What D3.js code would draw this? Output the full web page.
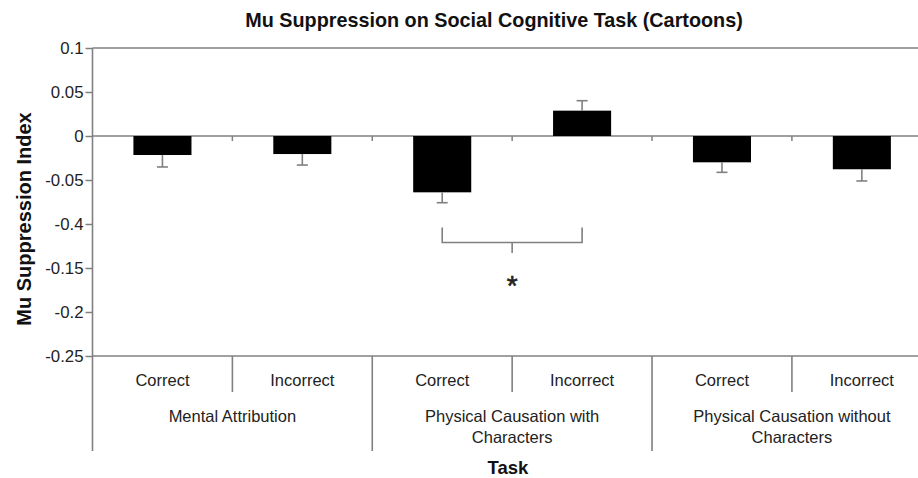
<!DOCTYPE html>
<html>
<head>
<meta charset="utf-8">
<script src="https://cdn.jsdelivr.net/npm/d3@7"></script>
<style>
  html, body { margin: 0; padding: 0; background: #fff; }
  svg { display: block; font-family: "Liberation Sans", Arial, sans-serif; }
</style>
</head>
<body>
<svg id="chart" width="918" height="478"></svg>
<script>
// Conditions (task x response) in drawing order
const conditions = ["MA-C", "MA-I", "PCW-C", "PCW-I", "PCWO-C", "PCWO-I"];
const responseLabels = ["Correct", "Incorrect", "Correct", "Incorrect", "Correct", "Incorrect"];
const taskGroups = [
  ["Mental Attribution"],
  ["Physical Causation with", "Characters"],
  ["Physical Causation without", "Characters"]
];
// Mean mu suppression index per condition and its standard error
const meanValues = [-0.0216, -0.0205, -0.064, 0.0288, -0.0299, -0.0378];
const errorValues = [0.0136, 0.0125, 0.0118, 0.0113, 0.0114, 0.0133];
// Y-axis ticks and the labels printed beside them
const tickValues = [0.1, 0.05, 0, -0.05, -0.1, -0.15, -0.2, -0.25];
const tickLabels = ["0.1", "0.05", "0", "-0.05", "-0.4", "-0.15", "-0.2", "-0.25"];
// Significance bracket between PCW-Correct and PCW-Incorrect
const bracketPair = ["PCW-C", "PCW-I"];
const bracketLevels = [-0.104, -0.121, -0.133];
const bracketMark = "*";

const svg = d3.select("#chart");
const lineColor = "#808080";
const textColor = "#222";

const plotLeft = 92.5, plotRight = 931.8, plotTop = 48, plotBottom = 356;
const x = d3.scaleBand().domain(conditions).range([plotLeft, plotRight]).padding(0);
const y = d3.scaleLinear().domain([-0.25, 0.1]).range([plotBottom, plotTop]);
const barW = x.bandwidth() * 0.415;
const cx = c => x(c) + x.bandwidth() / 2;

// Title
svg.append("text")
  .attr("x", 494).attr("y", 27)
  .attr("text-anchor", "middle")
  .attr("font-size", 19.8).attr("font-weight", "bold")
  .attr("fill", "#111")
  .text("Mu Suppression on Social Cognitive Task (Cartoons)");

// Y axis title
svg.append("text")
  .attr("transform", `translate(31, 219) rotate(-90)`)
  .attr("text-anchor", "middle")
  .attr("font-size", 20).attr("font-weight", "bold")
  .attr("fill", "#111")
  .text("Mu Suppression Index");

// Y axis with custom tick labels
const yAxis = d3.axisLeft(y)
  .tickValues(tickValues)
  .tickSize(7)
  .tickPadding(2)
  .tickFormat((d, i) => tickLabels[i]);
const gy = svg.append("g").attr("transform", `translate(${plotLeft},0)`).call(yAxis);
gy.select(".domain").remove();
gy.selectAll(".tick line").attr("stroke", lineColor).attr("stroke-width", 1.5);
gy.selectAll(".tick text")
  .attr("font-size", 16.8).attr("fill", textColor)
  .attr("font-family", "Liberation Sans, Arial, sans-serif");

// Horizontal rules: top of plot, zero line, bottom of plot
[0.1, 0, -0.25].forEach(v => {
  svg.append("line")
    .attr("x1", plotLeft).attr("x2", 918)
    .attr("y1", y(v)).attr("y2", y(v))
    .attr("stroke", lineColor).attr("stroke-width", 1.6);
});

// Vertical axis line, running down through the category area
svg.append("line")
  .attr("x1", plotLeft).attr("x2", plotLeft)
  .attr("y1", plotTop).attr("y2", 451)
  .attr("stroke", lineColor).attr("stroke-width", 1.6);

// Small ticks on the zero line at condition boundaries
conditions.slice(1).forEach(c => {
  svg.append("line")
    .attr("x1", x(c)).attr("x2", x(c))
    .attr("y1", y(0)).attr("y2", y(0) + 5)
    .attr("stroke", lineColor).attr("stroke-width", 1.5);
});

// Bars
svg.append("g").selectAll("rect")
  .data(conditions)
  .join("rect")
  .attr("x", c => cx(c) - barW / 2)
  .attr("width", barW)
  .attr("y", (c, i) => y(Math.max(0, meanValues[i])))
  .attr("height", (c, i) => Math.abs(y(meanValues[i]) - y(0)))
  .attr("fill", "#000");

// One-sided error bars, pointing away from zero
const capW = 11;
conditions.forEach((c, i) => {
  const v = meanValues[i];
  const end = v + Math.sign(v) * errorValues[i];
  const g = svg.append("g").attr("stroke", lineColor).attr("stroke-width", 1.6);
  g.append("line").attr("x1", cx(c)).attr("x2", cx(c)).attr("y1", y(v)).attr("y2", y(end));
  g.append("line").attr("x1", cx(c) - capW / 2).attr("x2", cx(c) + capW / 2)
    .attr("y1", y(end)).attr("y2", y(end));
});

// Category area: response labels and dividers
responseLabels.forEach((lab, i) => {
  svg.append("text")
    .attr("x", cx(conditions[i])).attr("y", 386)
    .attr("text-anchor", "middle")
    .attr("font-size", 16.5).attr("fill", textColor)
    .text(lab);
});
conditions.forEach((c, i) => {
  if (i === 0) return;
  const isGroup = i % 2 === 0;
  svg.append("line")
    .attr("x1", x(c)).attr("x2", x(c))
    .attr("y1", plotBottom).attr("y2", isGroup ? 451 : 392)
    .attr("stroke", lineColor).attr("stroke-width", 1.6);
});
taskGroups.forEach((lines, gi) => {
  const gx = x(conditions[gi * 2]) + x.bandwidth();
  const t = svg.append("text")
    .attr("text-anchor", "middle")
    .attr("font-size", 16.5).attr("fill", textColor);
  lines.forEach((ln, li) => {
    t.append("tspan").attr("x", gx).attr("y", 422 + li * 21).text(ln);
  });
});

// X axis title
svg.append("text")
  .attr("x", 508).attr("y", 474)
  .attr("text-anchor", "middle")
  .attr("font-size", 18.5).attr("font-weight", "bold")
  .attr("fill", "#111")
  .text("Task");

// Significance bracket
const bx1 = cx(bracketPair[0]), bx2 = cx(bracketPair[1]);
const bmid = (bx1 + bx2) / 2;
svg.append("path")
  .attr("d", `M${bx1},${y(bracketLevels[0])}V${y(bracketLevels[1])}H${bx2}V${y(bracketLevels[0])}` +
             `M${bmid},${y(bracketLevels[1])}V${y(bracketLevels[2])}`)
  .attr("fill", "none").attr("stroke", lineColor).attr("stroke-width", 1.6);
svg.append("text")
  .attr("x", bmid).attr("y", 295)
  .attr("text-anchor", "middle")
  .attr("font-size", 28).attr("fill", textColor)
  .attr("stroke", textColor).attr("stroke-width", 0.6)
  .text(bracketMark);
</script>
</body>
</html>
